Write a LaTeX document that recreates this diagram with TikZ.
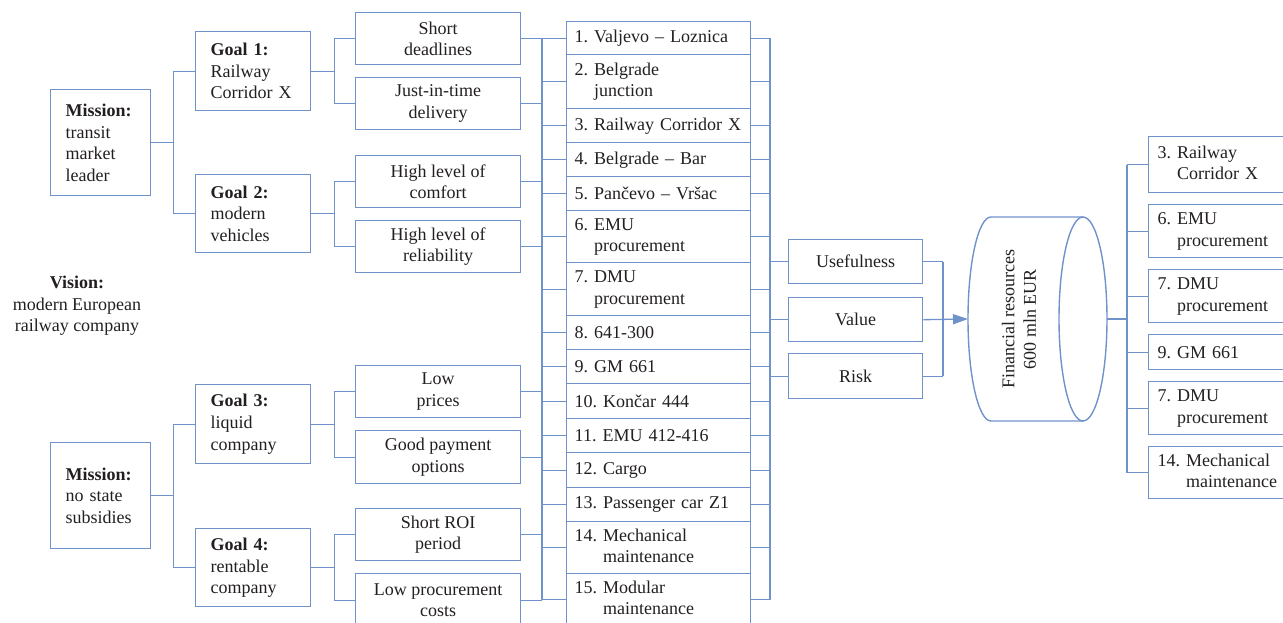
\documentclass[tikz,border=0pt]{standalone}
\usepackage{fontspec}
\setmainfont{Liberation Serif}
\usetikzlibrary{arrows.meta}
\definecolor{lb}{RGB}{112,146,202}
\definecolor{tx}{RGB}{35,31,32}
\newcommand\hg[3]{\begin{tabular}{@{}l@{\ }l@{}}#1&#2\\&#3\end{tabular}}
\frenchspacing
\begin{document}
\frenchspacing
\begin{tikzpicture}[x=1pt,y=-1pt,
  every node/.style={text=tx, font=\fontsize{18}{21.6}\selectfont\frenchspacing},
  box/.style={draw=lb, line width=1.4pt, inner sep=0pt, anchor=north west},
  cbox/.style={box, align=center},
  lbox/.style={box, align=left},
  con/.style={draw=lb, line width=1.3pt}]
\useasboundingbox (0,0) rectangle (1283,623);

% missions
\node[lbox, text width=70pt, inner xsep=15pt, minimum height=106pt] (m1) at (50,89) {\textbf{Mission:}\\transit\\market\\leader};
\node[lbox, text width=70pt, inner xsep=15pt, minimum height=106pt] (m2) at (50,442) {\textbf{Mission:}\\no state\\subsidies};
\node[align=center] (vis) at (77,306) {\textbf{Vision:}\\modern European\\railway company};

% goals
\node[lbox, text width=85pt, inner xsep=15pt, minimum height=79pt] (g1) at (195,31) {\textbf{Goal 1:}\\Railway\\Corridor X};
\node[lbox, text width=85pt, inner xsep=15pt, minimum height=78pt] (g2) at (195,174) {\textbf{Goal 2:}\\modern\\vehicles};
\node[lbox, text width=85pt, inner xsep=15pt, minimum height=79pt] (g3) at (195,384) {\textbf{Goal 3:}\\liquid\\company};
\node[lbox, text width=85pt, inner xsep=15pt, minimum height=78pt] (g4) at (195,528) {\textbf{Goal 4:}\\rentable\\company};

% objectives
\node[cbox, minimum width=165pt, minimum height=52pt] (o1) at (355,12) {Short\\deadlines};
\node[cbox, minimum width=165pt, minimum height=52pt] (o2) at (355,77) {Just-in-time\\delivery};
\node[cbox, minimum width=165pt, minimum height=52pt] (o3) at (355,155) {High level of\\comfort};
\node[cbox, minimum width=165pt, minimum height=52pt] (o4) at (355,220) {High level of\\reliability};
\node[cbox, minimum width=165pt, minimum height=52pt] (o5) at (355,365) {Low\\prices};
\node[cbox, minimum width=165pt, minimum height=53pt] (o6) at (355,430) {Good payment\\options};
\node[cbox, minimum width=165pt, minimum height=52pt] (o7) at (355,508) {Short ROI\\period};
\node[cbox, minimum width=165pt, minimum height=53pt] (o8) at (355,573) {Low procurement\\costs};

% projects
\tikzset{pbox/.style={lbox, text width=168pt, inner xsep=8pt}}
\node[pbox, minimum height=33pt] (p1) at (566,21) {1. Valjevo – Loznica};
\node[pbox, minimum height=54pt] (p2) at (566,54) {\hg{2.}{Belgrade}{junction}};
\node[pbox, minimum height=34pt] (p3) at (566,108) {3. Railway Corridor X};
\node[pbox, minimum height=34pt] (p4) at (566,142) {4. Belgrade – Bar};
\node[pbox, minimum height=34pt] (p5) at (566,176) {5. Pančevo – Vršac};
\node[pbox, minimum height=52pt] (p6) at (566,210) {\hg{6.}{EMU}{procurement}};
\node[pbox, minimum height=53pt] (p7) at (566,262) {\hg{7.}{DMU}{procurement}};
\node[pbox, minimum height=34pt] (p8) at (566,315) {8. 641-300};
\node[pbox, minimum height=34pt] (p9) at (566,349) {9. GM 661};
\node[pbox, minimum height=35pt] (p10) at (566,383) {10. Končar 444};
\node[pbox, minimum height=34pt] (p11) at (566,418) {11. EMU 412-416};
\node[pbox, minimum height=35pt] (p12) at (566,452) {12. Cargo};
\node[pbox, minimum height=34pt] (p13) at (566,487) {13. Passenger car Z1};
\node[pbox, minimum height=52pt] (p14) at (566,521) {\hg{14.}{Mechanical}{maintenance}};
\node[pbox, minimum height=52pt] (p15) at (566,573) {\hg{15.}{Modular}{maintenance}};

% criteria
\node[cbox, minimum width=134pt, minimum height=44pt] (c1) at (788,239) {Usefulness};
\node[cbox, minimum width=134pt, minimum height=44pt] (c2) at (788,297) {Value};
\node[cbox, minimum width=134pt, minimum height=45pt] (c3) at (788,353) {Risk};

% cylinder
\coordinate (cylL) at (968,319);
\coordinate (cylR) at (1107,319);
\draw[con, line width=1.4pt] (1083,217) -- (991,217) arc[start angle=90, end angle=270, x radius=23pt, y radius=102pt] -- (1083,421);
\draw[con, line width=1.4pt] (1083,319) ellipse [x radius=24pt, y radius=102pt];
\node[rotate=90, align=center] (fin) at (1019,319) {Financial resources\\600 mln EUR};

% selected projects
\tikzset{rbox/.style={lbox, text width=134pt, inner xsep=9pt}}
\node[rbox, minimum height=56pt] (r1) at (1148,136) {\hg{3.}{Railway}{Corridor X}};
\node[rbox, minimum height=53pt] (r2) at (1148,204) {\hg{6.}{EMU}{procurement}};
\node[rbox, minimum height=53pt] (r3) at (1148,269) {\hg{7.}{DMU}{procurement}};
\node[rbox, minimum height=35pt] (r4) at (1148,334) {9. GM 661};
\node[rbox, minimum height=53pt] (r5) at (1148,381) {\hg{7.}{DMU}{procurement}};
\node[rbox, minimum height=52pt] (r6) at (1148,446) {\hg{14.}{Mechanical}{maintenance}};

% connectors: missions -> goals
\draw[con] (m1.east) -- ++(22,0) coordinate (j1) |- (g1.west);
\draw[con] (j1) |- (g2.west);
\draw[con] (m2.east) -- ++(22,0) coordinate (j2) |- (g3.west);
\draw[con] (j2) |- (g4.west);

% goals -> objectives
\draw[con] (g1.east) -- ++(23,0) coordinate (k1) |- (o1.west);
\draw[con] (k1) |- (o2.west);
\draw[con] (g2.east) -- ++(23,0) coordinate (k2) |- (o3.west);
\draw[con] (k2) |- (o4.west);
\draw[con] (g3.east) -- ++(23,0) coordinate (k3) |- (o5.west);
\draw[con] (k3) |- (o6.west);
\draw[con] (g4.east) -- ++(23,0) coordinate (k4) |- (o7.west);
\draw[con] (k4) |- (o8.west);

% objectives -> projects
\coordinate (busA) at (542,0);
\foreach \n in {o1,o2,o3,o4,o5,o6,o7,o8} \draw[con] (\n.east) -- (\n.east -| busA);
\foreach \n in {p1,p2,p3,p4,p5,p6,p7,p8,p9,p10,p11,p12,p13,p14,p15} \draw[con] (\n.west) -- (\n.west -| busA);
\draw[con] (busA |- o1.east) -- (busA |- p15.west);

% projects -> criteria
\coordinate (busB) at (770,0);
\foreach \n in {p1,p2,p3,p4,p5,p6,p7,p8,p9,p10,p11,p12,p13,p14,p15} \draw[con] (\n.east) -- (\n.east -| busB);
\draw[con] (busB |- p1.east) -- (busB |- p15.east);
\foreach \n in {c1,c2,c3} \draw[con] (\n.west) -- (\n.west -| busB);

% criteria -> resources
\coordinate (busC) at (943,0);
\foreach \n in {c1,c3} \draw[con] (\n.east) -- (\n.east -| busC);
\draw[con] (busC |- c1.east) -- (busC |- c3.east);
\draw[con, -{Triangle[length=15pt,width=10pt]}] (c2.east) -- (cylL);

% resources -> selected
\coordinate (busD) at (1127,0);
\draw[con] (cylR) -- (cylR -| busD);
\draw[con] (busD |- r1.west) -- (busD |- r6.west);
\foreach \n in {r1,r2,r3,r4,r5,r6} \draw[con] (\n.west) -- (\n.west -| busD);
\end{tikzpicture}
\end{document}
